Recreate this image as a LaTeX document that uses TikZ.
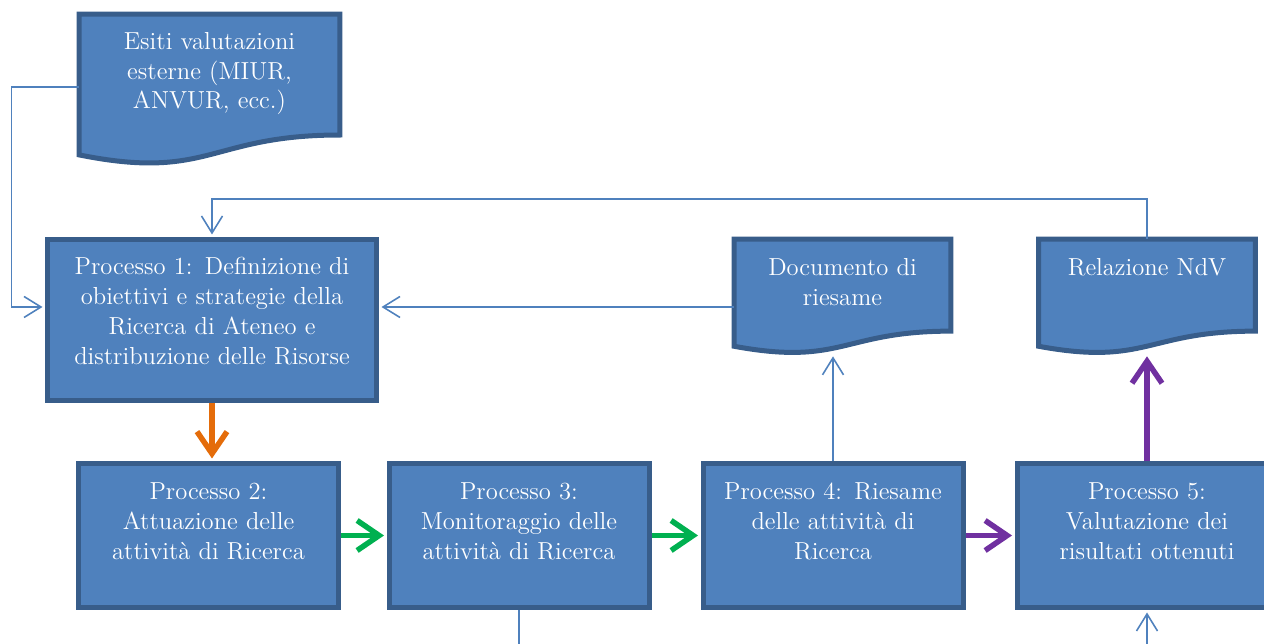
\documentclass[tikz,border=0pt]{standalone}
\usepackage{tikz}
\usetikzlibrary{calc}
\usetikzlibrary{arrows.meta}
\usetikzlibrary{backgrounds}

\definecolor{BoxFill}{HTML}{4F81BD}
\definecolor{BoxLine}{HTML}{385D8A}
\definecolor{LinkBlue}{HTML}{4F81BD}
\definecolor{StepOrange}{HTML}{E46C0A}
\definecolor{StepGreen}{HTML}{00B050}
\definecolor{StepPurple}{HTML}{7030A0}

\begin{document}
\begin{tikzpicture}[
  boxfont/.style={font=\fontsize{14}{16.9}\selectfont},
  procbox/.style={boxfont, draw=BoxLine, fill=BoxFill, line width=1mm, text=white, align=center, inner sep=0pt, text width=5.2cm, text height=7.3mm, text depth=21.5mm},
  docbox/.style={boxfont, text=white, align=center, inner sep=0pt, text width=4.32cm, text height=7.3mm, text depth=15.5mm},
  docline/.style={draw=BoxLine, fill=BoxFill, line width=1mm},
  link/.style={draw=LinkBlue, line width=0.9pt, shorten >=0.5mm, -{Straight Barb[length=3.4mm,width=4.2mm]}},
  flow/.style={line width=1.1mm, shorten >=0.5mm, -{Straight Barb[length=4.4mm,width=6mm]}},
]
\clip (0,0) rectangle (25.28,12.88);

% documents
\node[docbox, text width=5.2cm, text height=7mm, text depth=23mm] (esiti) at (4.19,11.09) {Esiti valutazioni\\esterne (MIUR,\\ANVUR, ecc.)};
\node[docbox] (doc) at (16.85,6.95) {Documento di\\riesame};
\node[docbox] (rel) at (22.94,6.95) {Relazione NdV};

\begin{scope}[on background layer]
\foreach \n in {esiti,doc,rel}{
  \draw[docline] (\n.north west) -- (\n.north east) -- ($(\n.north east)!0.802!(\n.south east)$)
    .. controls ($(\n.north)!0.802!(\n.south)$) and ($(\n.north)!1.108!(\n.south)$) .. ($(\n.north west)!0.934!(\n.south west)$) -- cycle;
}
\end{scope}

% processes
\node[procbox, text width=6.58cm, text height=7.1mm, text depth=25.1mm] (p1) at (4.24,6.48) {Processo 1: Definizione di\\obiettivi e strategie della\\Ricerca di Ateneo e\\distribuzione delle Risorse};
\node[procbox] (p2) at (4.17,2.17) {Processo 2:\\Attuazione delle\\attivit\`a di Ricerca};
\node[procbox] (p3) at (10.38,2.17) {Processo 3:\\Monitoraggio delle\\attivit\`a di Ricerca};
\node[procbox] (p4) at (16.66,2.17) {Processo 4: Riesame\\delle attivit\`a di\\Ricerca};
\node[procbox] (p5) at (22.94,2.17) {Processo 5:\\Valutazione dei\\risultati ottenuti};

\coordinate (p1in) at ([yshift=2.6mm]p1.west);
\coordinate (p1out) at ([yshift=2.6mm]p1.east);
\coordinate (p3tail) at ([yshift=-1.2cm]p3.south);
\coordinate (p5tail) at ([yshift=-1.2cm]p5.south);

% thin connectors
\draw[link] ([yshift=0.5mm]esiti.west) -- ++(-1.35,0) |- (p1in);
\draw[link] (doc.west |- p1out) -- (p1out);
\draw[link] (rel.north) -- ++(0,0.8) -| (p1.north);
\draw[link] (p4.north) -- (p4.north |- doc.south);
\draw[link, -] (p3.south) -- (p3tail);
\draw[link] (p5tail) -- (p5.south);

% main flow
\draw[flow, StepOrange] (p1.south) -- (p1.south |- p2.north);
\draw[flow, StepGreen] (p2) -- (p3);
\draw[flow, StepGreen] (p3) -- (p4);
\draw[flow, StepPurple] (p4) -- (p5);
\draw[flow, StepPurple] (p5) -- (rel);
\end{tikzpicture}
\end{document}
